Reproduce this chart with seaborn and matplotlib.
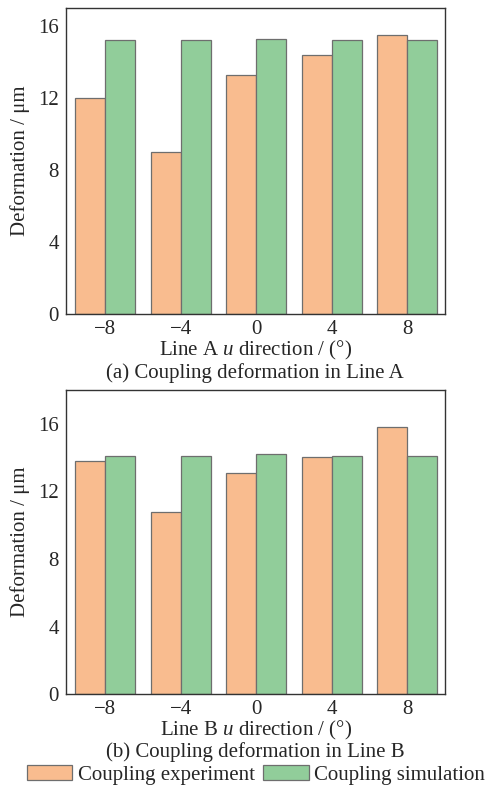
import matplotlib
matplotlib.use("Agg")
import matplotlib.pyplot as plt
import seaborn as sns
import pandas as pd

angles = ["−8", "−4", "0", "4", "8"]
series = ["Coupling experiment", "Coupling simulation"]
line_a_experiment = [12.0, 9.0, 13.3, 14.4, 15.5]
line_a_simulation = [15.2, 15.2, 15.3, 15.2, 15.2]
line_b_experiment = [13.8, 10.8, 13.1, 14.05, 15.8]
line_b_simulation = [14.1, 14.1, 14.2, 14.1, 14.1]

colors = ["#F9BC8F", "#91CD9A"]
FS = 15

sns.set_theme(style="white")
plt.rcParams["font.family"] = ["Liberation Serif", "DejaVu Serif"]
plt.rcParams["mathtext.fontset"] = "custom"
plt.rcParams["mathtext.it"] = "Liberation Serif:italic"
plt.rcParams["mathtext.rm"] = "Liberation Serif"


def frame(exp, sim):
    return pd.DataFrame({
        "angle": angles * 2,
        "value": exp + sim,
        "series": [series[0]] * len(angles) + [series[1]] * len(angles),
    })


fig = plt.figure(figsize=(4.9, 7.86), dpi=100)
ax1 = fig.add_axes([0.1347, 0.6005, 0.7735, 0.3893])
ax2 = fig.add_axes([0.1347, 0.1167, 0.7735, 0.3871])

panels = [
    (ax1, frame(line_a_experiment, line_a_simulation), 17, "Line A $u$ direction / (°)"),
    (ax2, frame(line_b_experiment, line_b_simulation), 18, "Line B $u$ direction / (°)"),
]

for ax, df, top, xlabel in panels:
    sns.barplot(data=df, x="angle", y="value", hue="series", order=angles,
                hue_order=series, palette=colors, width=0.8, saturation=1,
                edgecolor="#6e6e6e", linewidth=0.9, ax=ax, legend=True)
    ax.set_ylim(0, top)
    ax.set_xlim(-0.52, 4.5)
    ax.set_yticks([0, 4, 8, 12, 16])
    ax.tick_params(axis="both", length=0, labelsize=FS)
    ax.tick_params(axis="x", pad=4)
    ax.tick_params(axis="y", pad=5)
    ax.set_xlabel(xlabel, fontsize=FS, labelpad=0)
    ax.set_ylabel("Deformation / μm", fontsize=FS, labelpad=6)
    for s in ax.spines.values():
        s.set_color("#333333")
        s.set_linewidth(1.0)
    ax.get_legend().remove()

handles, labels = ax1.get_legend_handles_labels()

fig.text(0.521, 1 - 373 / 786, "(a) Coupling deformation in Line A",
         ha="center", va="center", fontsize=FS)
fig.text(0.521, 1 - 752 / 786, "(b) Coupling deformation in Line B",
         ha="center", va="center", fontsize=FS)

fig.legend(handles, labels, loc="center", bbox_to_anchor=(0.522, 1 - 775 / 786),
           ncol=2, frameon=False, fontsize=15, handlelength=2.2,
           handleheight=0.7, handletextpad=0.25, columnspacing=0.4,
           borderaxespad=0, borderpad=0)

fig.savefig("out.png", dpi=100)
